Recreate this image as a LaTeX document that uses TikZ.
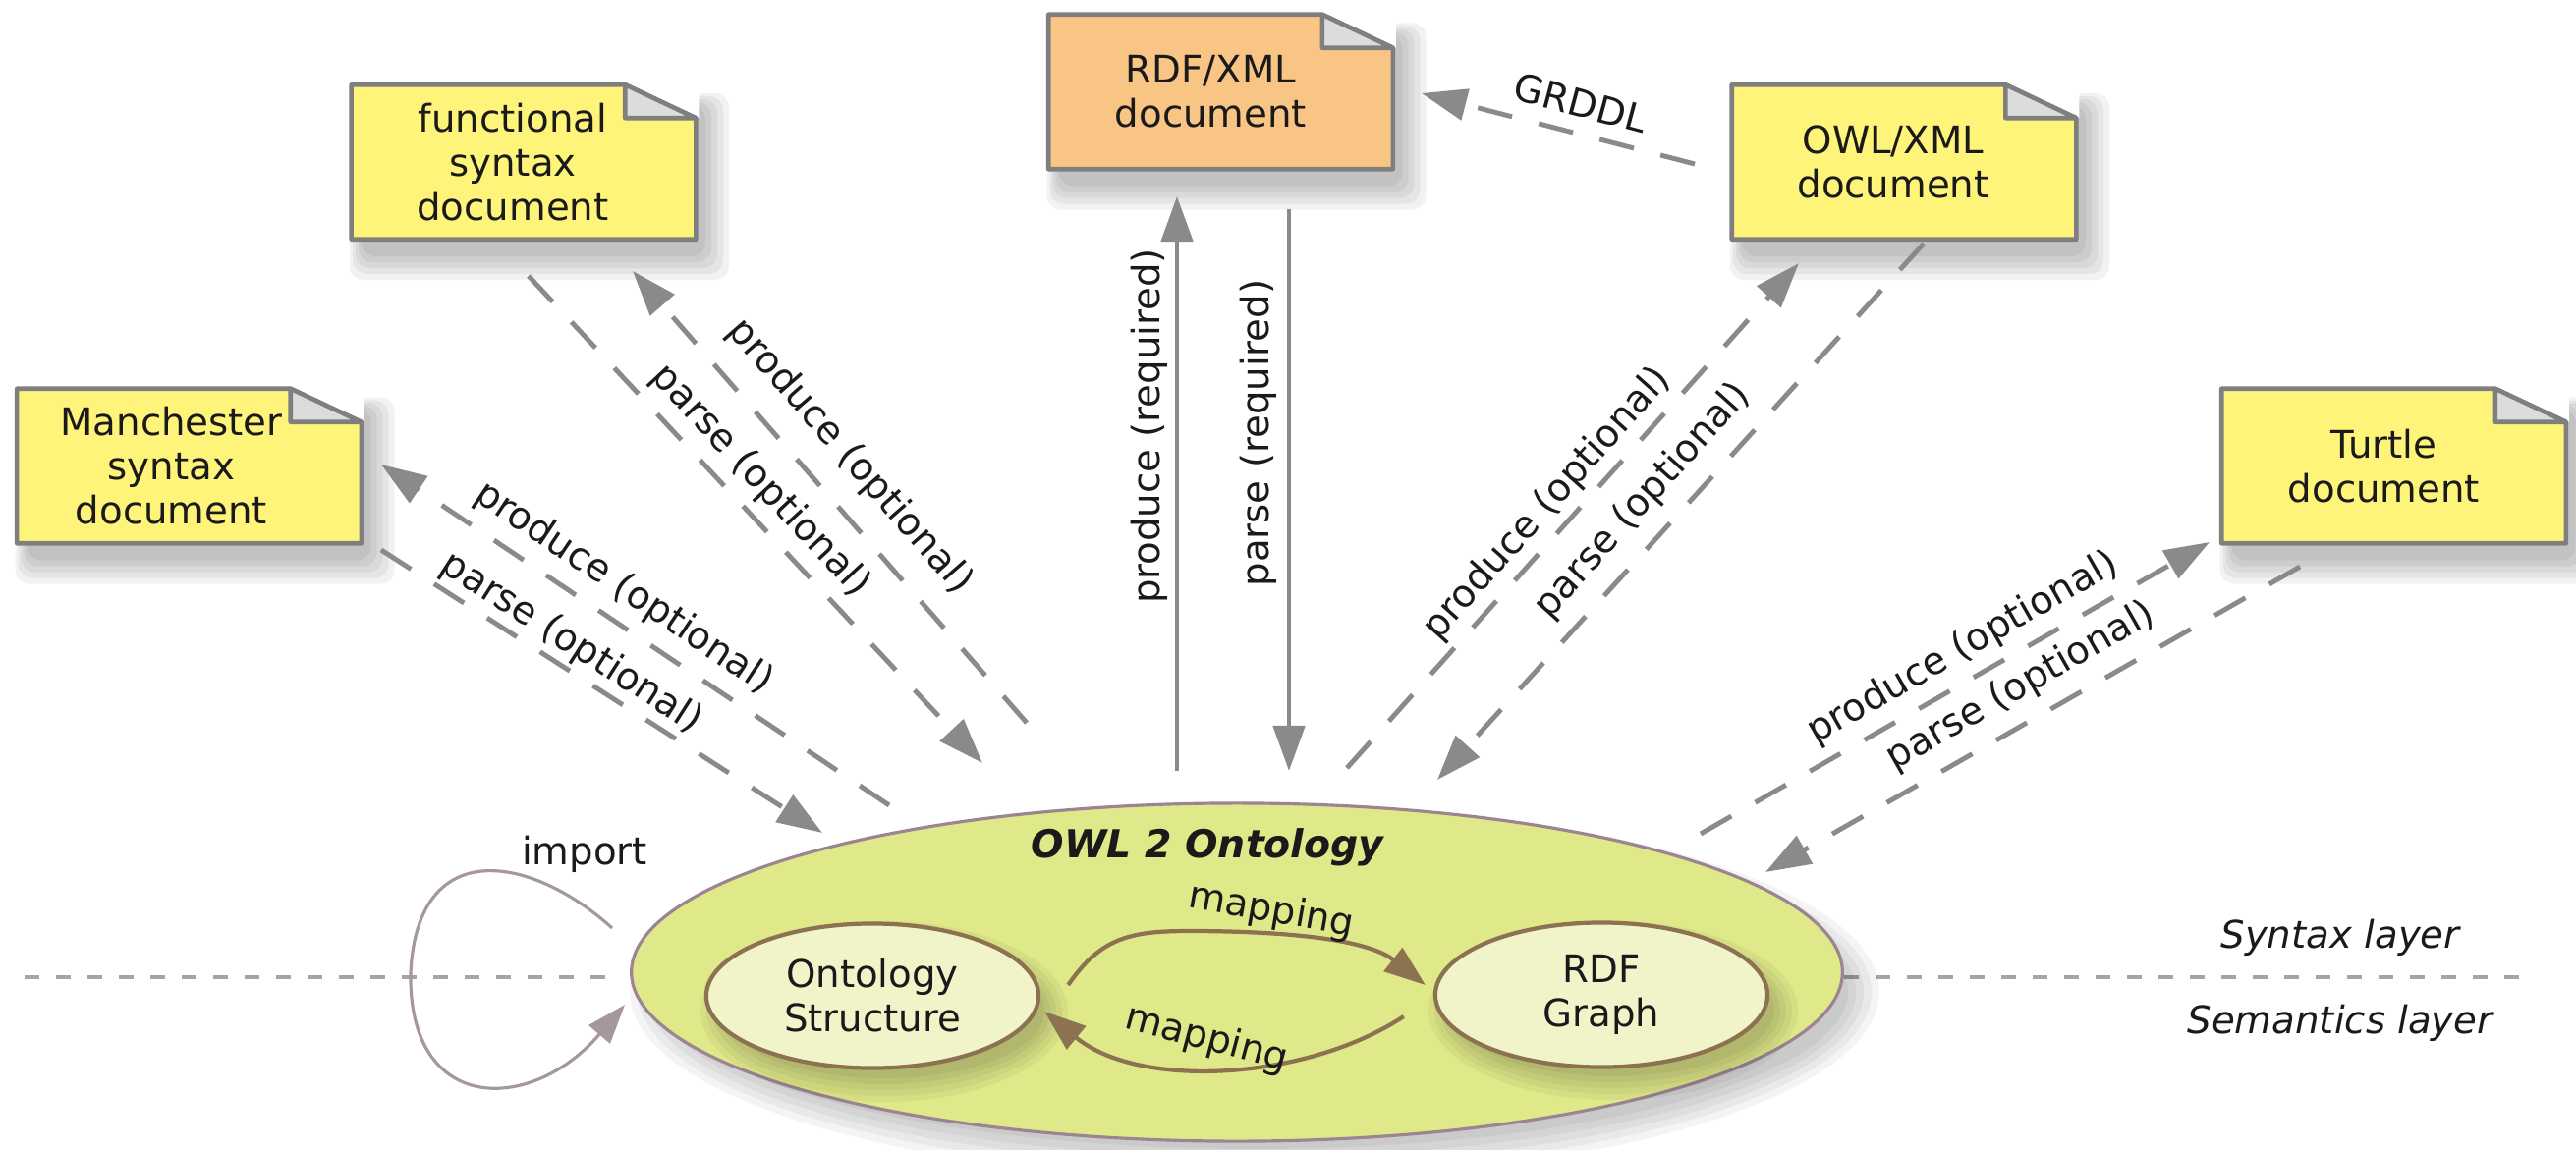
\documentclass[tikz,border=0pt]{standalone}
\usepackage{fontspec}
\setmainfont{DejaVu Sans}
\usetikzlibrary{arrows.meta,shapes.geometric,calc}
\definecolor{noteyellow}{HTML}{FFF47A}
\definecolor{noteorange}{HTML}{F9C585}
\definecolor{notegray}{HTML}{7F7F7F}
\definecolor{foldgray}{HTML}{DCDCDC}
\definecolor{arrgray}{HTML}{8A8A8A}
\definecolor{sepgray}{HTML}{A4A4A4}
\definecolor{owlfill}{HTML}{E0E98A}
\definecolor{owldraw}{HTML}{9C8492}
\definecolor{innerfill}{HTML}{F0F4C8}
\definecolor{brownc}{HTML}{8C7250}
\definecolor{importc}{HTML}{A6979D}
\definecolor{txt}{HTML}{1A1A1A}
% soft shadow of a note centred at (#1,#2)
\newcommand\noteshadow[2]{%
  \foreach \e in {0,6,12,18,24}{%
    \fill[black, opacity=0.05, rounded corners=0.14cm]
      (#1-175+10-0.5*\e, #2-78+20-0.5*\e) rectangle (#1+175+10+\e, #2+78+18+\e);}}
% outline and folded corner of a note node
\newcommand\noteoutline[1]{%
  \fill[white] ([xshift=-0.72cm,yshift=0.03cm]#1.north east) -- ([xshift=0.03cm,yshift=0.03cm]#1.north east)
    -- ([xshift=0.03cm,yshift=-0.34cm]#1.north east) -- cycle;
  \draw[notegray, line width=1.3pt, line join=round]
    (#1.north west) -- ([xshift=-0.72cm]#1.north east) -- ([yshift=-0.34cm]#1.north east)
    -- (#1.south east) -- (#1.south west) -- cycle;
  \filldraw[fill=foldgray, draw=notegray, line width=1.3pt, line join=round]
    ([xshift=-0.72cm]#1.north east) -- ([xshift=-0.72cm,yshift=-0.34cm]#1.north east)
    -- ([yshift=-0.34cm]#1.north east) -- cycle;}
\begin{document}
\begin{tikzpicture}[x=0.01cm,y=-0.01cm,
  every node/.style={text=txt},
  lbl/.style={font=\fontsize{11}{12.8}\selectfont, inner sep=0pt},
  notebox/.style={minimum width=3.49cm, minimum height=1.56cm, inner sep=0pt},
  notetext/.style={align=center, inner sep=0pt, font=\fontsize{11}{12.8}\selectfont},
  darr/.style={draw=arrgray, line width=1.4pt, dash pattern=on 0.36cm off 0.28cm,
               -{Triangle[length=0.46cm,width=0.32cm]}},
  sarr/.style={draw=arrgray, line width=1.4pt, -{Triangle[length=0.46cm,width=0.32cm]}},
  innerell/.style={ellipse, fill=innerfill, draw=brownc, line width=1.2pt,
                   minimum width=3.38cm, minimum height=1.47cm, align=center, inner sep=0pt,
                   font=\fontsize{11}{12.8}\selectfont},
  marr/.style={draw=brownc, line width=1.2pt, -{Triangle[length=0.42cm,width=0.3cm]}},
  imparr/.style={draw=importc, line width=0.9pt, -{Triangle[length=0.4cm,width=0.28cm]}},
  sepline/.style={draw=sepgray, line width=1.4pt, dash pattern=on 0.15cm off 0.17cm},
  ]
\useasboundingbox[fill=white] (0,0) rectangle (2622,1170);

% documents
\noteshadow{192.5}{474.5}
\node[notebox, fill=noteyellow] (man) at (192.5,474.5) {};
\noteoutline{man}
\node[notetext] (mantxt) at ($(man.center)+(-18,0)$) {Manchester\\syntax\\document};
\noteshadow{533}{165}
\node[notebox, fill=noteyellow] (fun) at (533,165) {};
\noteoutline{fun}
\node[notetext] (funtxt) at ($(fun.center)+(-11,0)$) {functional\\syntax\\document};
\noteshadow{1242.5}{93.5}
\node[notebox, fill=noteorange] (rdfx) at (1242.5,93.5) {};
\noteoutline{rdfx}
\node[notetext] (rdfxtxt) at ($(rdfx.center)+(-10,0)$) {RDF/XML\\document};
\noteshadow{1938}{165}
\node[notebox, fill=noteyellow] (owx) at (1938,165) {};
\noteoutline{owx}
\node[notetext] (owxtxt) at ($(owx.center)+(-11,0)$) {OWL/XML\\document};
\noteshadow{2436.5}{474.5}
\node[notebox, fill=noteyellow] (ttl) at (2436.5,474.5) {};
\noteoutline{ttl}
\node[notetext] (ttltxt) at ($(ttl.center)+(-10,0)$) {Turtle\\document};

% layer separator
\coordinate (sepL) at (25,995);
\coordinate (sepLe) at (628,995);
\coordinate (sepR) at (1877,995);
\coordinate (sepRe) at (2575,995);
\draw[sepline] (sepL) -- (sepLe);
\draw[sepline] (sepR) -- (sepRe);

% ontology
\foreach \e in {-8,0,8,16,24}{%
  \fill[black, opacity=0.045] (1277,1010) ellipse [x radius=612+\e, y radius=168+\e];}
\node[ellipse, fill=owlfill, draw=owldraw, line width=0.9pt, minimum width=12.32cm, minimum height=3.44cm,
      inner sep=0pt] (owl) at (1259,990) {};
\node[font=\fontsize{11.2}{13}\selectfont\bfseries\itshape, anchor=base] (title) at (1229,873) {OWL 2 Ontology};
\foreach \e in {-6,0,6,12,18}{%
  \fill[black, opacity=0.045] (900,1030) ellipse [x radius=169+\e, y radius=74+\e];
  \fill[black, opacity=0.045] (1642,1029) ellipse [x radius=170+\e, y radius=73+\e];}
\node[innerell] (os) at (888,1014) {Ontology\\Structure};
\node[innerell] (rg) at (1630,1013) {RDF\\Graph};

\draw[marr] ($(os.east)+(28,-11)$) .. controls (1120,955) and (1150,948) .. (1210,948)
            .. controls (1300,948) and (1390,955) .. ($(rg.west)+(-8,-10)$);
\draw[marr] ($(rg.west)+(-30,22)$) .. controls (1330,1100) and (1160,1110) .. ($(os.east)+(4,16)$);
\node[lbl, rotate=-10] at (1294,928) {mapping};
\node[lbl, rotate=-15] at (1228,1058) {mapping};

% import loop
\coordinate (impS) at ($(owl.west)+(-18,-45)$);
\coordinate (impE) at ($(owl.west)+(-5,33)$);
\draw[imparr] (impS) .. controls (540,870) and (425,850) .. (418,990) .. controls (415,1135) and (540,1135) .. (impE);
\node[lbl] at (595,870) {import};

% connector end points
\coordinate (manP1) at (905,820);  \coordinate (manP2) at (388,473);
\coordinate (manQ1) at (388,560);  \coordinate (manQ2) at (837,848);
\coordinate (funP1) at (1045,736); \coordinate (funP2) at (644,276);
\coordinate (funQ1) at (538,281);  \coordinate (funQ2) at (1000,777);
\coordinate (rdfP1) at (1198,785); \coordinate (rdfP2) at (1198,200);
\coordinate (rdfQ1) at (1312,213); \coordinate (rdfQ2) at (1312,785);
\coordinate (owxP1) at (1371,782); \coordinate (owxP2) at (1831,268);
\coordinate (owxQ1) at (1958,248); \coordinate (owxQ2) at (1463,794);
\coordinate (ttlP1) at (1731,849); \coordinate (ttlP2) at (2249,552);
\coordinate (ttlQ1) at (2341,577); \coordinate (ttlQ2) at (1797,888);
\coordinate (grA) at (1725,167);   \coordinate (grB) at (1447,95);

\draw[darr] (manP1) -- (manP2);
\draw[darr] (manQ1) -- (manQ2);
\draw[darr] (funP1) -- (funP2);
\draw[darr] (funQ1) -- (funQ2);
\draw[sarr] (rdfP1) -- (rdfP2);
\draw[sarr] (rdfQ1) -- (rdfQ2);
\draw[darr] (owxP1) -- (owxP2);
\draw[darr] (owxQ1) -- (owxQ2);
\draw[darr] (ttlP1) -- (ttlP2);
\draw[darr] (ttlQ1) -- (ttlQ2);
\draw[darr] (grA) -- (grB);

% labels
\node[lbl, rotate=-33.9] at (635,599) {produce (optional)};
\node[lbl, rotate=-32.7] at (582,655) {parse (optional)};
\node[lbl, rotate=-48.9] at (865,465) {produce (optional)};
\node[lbl, rotate=-47] at (774,490) {parse (optional)};
\node[lbl, rotate=90] at (1170,434) {produce (required)};
\node[lbl, rotate=90] at (1281,441) {parse (required)};
\node[lbl, rotate=48.2] at (1575,513) {produce (optional)};
\node[lbl, rotate=48] at (1672,510) {parse (optional)};
\node[lbl, rotate=29.8] at (1998,660) {produce (optional)};
\node[lbl, rotate=29.8] at (2057,699) {parse (optional)};
\node[lbl, rotate=-15] at (1609,105) {GRDDL};

% layers
\node[lbl, font=\fontsize{11}{12.8}\selectfont\itshape, anchor=base] at (2382,965) {Syntax layer};
\node[lbl, font=\fontsize{11}{12.8}\selectfont\itshape, anchor=base] at (2382,1052) {Semantics layer};
\end{tikzpicture}
\end{document}
